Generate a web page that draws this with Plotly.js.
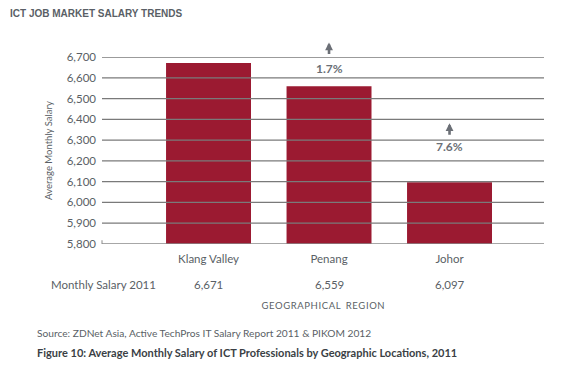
<!DOCTYPE html>
<html>
<head>
<meta charset="utf-8">
<script src="https://cdn.plot.ly/plotly-3.0.1.min.js"></script>
<style>
html,body{margin:0;padding:0;background:#fff;}
#chart{width:564px;height:379px;}
</style>
</head>
<body>
<div id="chart"></div>
<script>
var regions = ['Klang Valley', 'Penang', 'Johor'];
var salaries = [6671, 6559, 6097];
var growthLabels = ['', '1.7%', '7.6%'];
var yTicks = [5800, 5900, 6000, 6100, 6200, 6300, 6400, 6500, 6600, 6700];

var font = 'Lato, Noto Sans, sans-serif';
var grey = '#5a5f66';

var trace = {
  type: 'bar',
  x: regions,
  y: salaries,
  width: 0.705,
  marker: {color: '#9b1a31'},
  hoverinfo: 'skip'
};

var shapes = yTicks.map(function (v) {
  return {type: 'line', xref: 'paper', yref: 'y', x0: 0, x1: 1, y0: v, y1: v,
          layer: 'above', line: {color: v === 5800 ? '#8a8a8a' : '#7a7a7a', width: 1.3}};
});
shapes.push({type: 'line', xref: 'paper', yref: 'y', x0: 0, x1: 0, y0: 5800, y1: 5818,
             layer: 'above', line: {color: '#8a8a8a', width: 1}});

var annotations = [];
annotations.push({xref: 'paper', yref: 'paper', x: 0.126, y: -0.218, xanchor: 'right', yanchor: 'middle',
  text: 'Monthly Salary 2011', showarrow: false, font: {family: font, size: 11.5, color: grey}});
regions.forEach(function (r, i) {
  annotations.push({xref: 'x', yref: 'paper', x: r, y: -0.218, yanchor: 'middle',
    text: salaries[i].toLocaleString('en-US'), showarrow: false,
    font: {family: font, size: 11.5, color: grey}});
});
var arrowTipY = [null, 1.078, 0.646];
var labelY = [null, 6647, 6267];
regions.forEach(function (r, i) {
  if (!growthLabels[i]) return;
  annotations.push({xref: 'x', yref: 'paper', x: r, y: arrowTipY[i], ax: 0, ay: 13,
    text: '', showarrow: true, arrowhead: 2, arrowsize: 0.6, arrowwidth: 2.6, arrowcolor: '#6b6f76'});
  annotations.push({xref: 'x', yref: 'y', x: r, y: labelY[i], yanchor: 'middle',
    text: '<b>' + growthLabels[i] + '</b>', showarrow: false,
    font: {family: font, size: 12, color: '#6b6f76'}});
});
annotations.push({xref: 'paper', yref: 'paper', x: -0.213, y: 1.235, xanchor: 'left', yanchor: 'middle',
  text: '<b>ICT JOB MARKET SALARY TRENDS</b>', showarrow: false,
  font: {family: 'Liberation Sans, Arial, sans-serif', size: 10, color: '#5a5f66'}});
annotations.push({xref: 'paper', yref: 'paper', x: -0.152, y: -0.475, xanchor: 'left', yanchor: 'middle',
  text: 'Source: ZDNet Asia, Active TechPros IT Salary Report 2011 & PIKOM 2012', showarrow: false,
  font: {family: font, size: 10.2, color: '#5a5f66'}});
annotations.push({xref: 'paper', yref: 'paper', x: -0.152, y: -0.582, xanchor: 'left', yanchor: 'middle',
  text: '<b>Figure 10: Average Monthly Salary of ICT Professionals by Geographic Locations, 2011</b>', showarrow: false,
  font: {family: font, size: 11, color: '#3b3f45'}});

var layout = {
  width: 564, height: 379,
  margin: {l: 102, r: 20, t: 57, b: 135},
  paper_bgcolor: '#fff', plot_bgcolor: '#fff',
  showlegend: false,
  xaxis: {
    type: 'category', range: [-0.884, 2.784],
    showgrid: false, showline: false, zeroline: false, ticks: '',
    tickfont: {family: font, size: 11.5, color: grey},
    ticklabelstandoff: 6,
    title: {text: 'G E O G R A P H I C A L&nbsp;&nbsp; R E G I O N'.replace(/ /g, '\u200a'), standoff: 38,
            font: {family: font, size: 9.5, color: grey}},
    fixedrange: true
  },
  yaxis: {
    range: [5800, 6700], tickvals: yTicks, tickformat: ',',
    showgrid: false, showline: false, zeroline: false, ticks: '',
    tickfont: {family: font, size: 11.5, color: grey},
    ticklabelstandoff: 5,
    title: {text: 'Average Monthly Salary', standoff: 12,
            font: {family: font, size: 9.5, color: grey}},
    fixedrange: true
  },
  shapes: shapes,
  annotations: annotations
};

Plotly.newPlot('chart', [trace], layout, {displayModeBar: false, staticPlot: true});
</script>
</body>
</html>
